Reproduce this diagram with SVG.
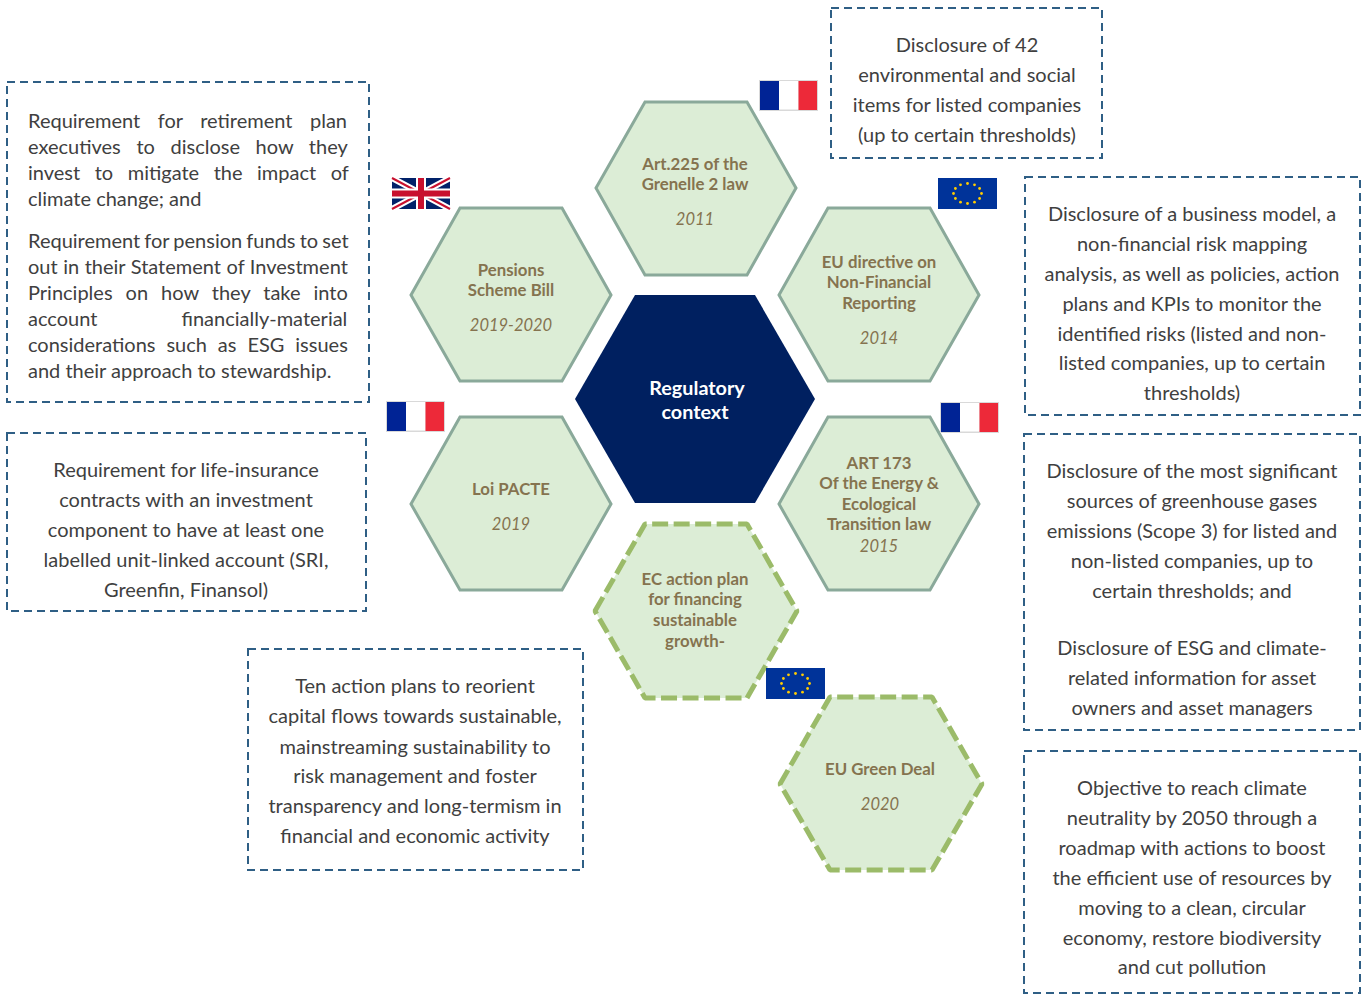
<svg xmlns="http://www.w3.org/2000/svg" width="1366" height="994" viewBox="0 0 1366 994">
<defs>
<style>
text{font-family:"Lato","Open Sans","Liberation Sans",sans-serif}
.b{fill:none;stroke:#2f5f85;stroke-width:2;stroke-dasharray:8 5}
.t{font-size:20px;fill:#404040;text-anchor:middle}
.l{font-size:20px;fill:#404040}
.h{fill:#dcedd6;stroke:#8aa99a;stroke-width:3}
.d{fill:#dcedd6;stroke:#9bbb69;stroke-width:5;stroke-dasharray:16 5.5;stroke-linejoin:bevel}
.n{font-size:16.800px;font-weight:700;fill:#85734f;text-anchor:middle}
.y{font-size:16.500px;font-style:italic;fill:#85734f;text-anchor:middle}
.c{font-size:19.800px;font-weight:700;fill:#fff;text-anchor:middle}
.s{fill:#ffcc00}
</style>
<g id="eu"><rect width="59" height="31" fill="#003399"/><g class="s"><circle cx="29.500" cy="5.500" r="1.400"/><circle cx="29.500" cy="25.500" r="1.400"/><circle cx="15.500" cy="15.500" r="1.400"/><circle cx="43.500" cy="15.500" r="1.400"/><circle cx="22.500" cy="6.800" r="1.400"/><circle cx="36.500" cy="6.800" r="1.400"/><circle cx="22.500" cy="24.200" r="1.400"/><circle cx="36.500" cy="24.200" r="1.400"/><circle cx="17.400" cy="10.500" r="1.400"/><circle cx="41.600" cy="10.500" r="1.400"/><circle cx="17.400" cy="20.500" r="1.400"/><circle cx="41.600" cy="20.500" r="1.400"/></g></g>
<g id="fr"><rect width="59" height="31" fill="#d9d9d9"/><rect x="1" y="1" width="19" height="29" fill="#002395"/><rect x="20" y="1" width="19.500" height="28.500" fill="#fff"/><rect x="39.500" y="1" width="18.500" height="29" fill="#ed2939"/></g>
</defs>
<rect width="1366" height="994" fill="#fff"/>
<g id="connectors"></g>

<g id="center"><polygon points="575,399 635,295 755,295 815,399 755,503 635,503" fill="#002060"/><text class="c" x="697" y="395">Regulatory</text><text class="c" x="695" y="419">context</text></g>

<g id="hex-art225"><polygon class="h" points="596,188 645,102 747,102 796,188 747,275 645,275"/><text class="n" x="695" y="170">Art.225 of the</text><text class="n" x="695" y="190">Grenelle 2 law</text><text class="y" x="695" y="224.500">2011</text></g>
<g id="hex-pensions"><polygon class="h" points="411,295 460,208 562,208 611,295 562,381 460,381"/><text class="n" x="511" y="276">Pensions</text><text class="n" x="511" y="296">Scheme Bill</text><text class="y" x="511" y="330.500">2019-2020</text></g>
<g id="hex-eu-directive"><polygon class="h" points="779,295 828,208 930,208 979,295 930,381 828,381"/><text class="n" x="879" y="268">EU directive on</text><text class="n" x="879" y="288">Non-Financial</text><text class="n" x="879" y="309">Reporting</text><text class="y" x="879" y="343.500">2014</text></g>
<g id="hex-pacte"><polygon class="h" points="411,504 460,417 562,417 611,504 562,590 460,590"/><text class="n" x="511" y="495">Loi PACTE</text><text class="y" x="511" y="529.500">2019</text></g>
<g id="hex-art173"><polygon class="h" points="779,504 828,417 930,417 979,504 930,590 828,590"/><text class="n" x="879" y="469">ART 173</text><text class="n" x="879" y="489">Of the Energy &amp;</text><text class="n" x="879" y="510">Ecological</text><text class="n" x="879" y="530">Transition law</text><text class="y" x="879" y="551.500">2015</text></g>
<g id="hex-ec-plan"><polygon class="d" points="595,611 645,524 747,524 797,611 747,698 645,698"/><text class="n" x="695" y="585">EC action plan</text><text class="n" x="695" y="605">for financing</text><text class="n" x="695" y="626">sustainable</text><text class="n" x="695" y="647">growth-</text></g>
<g id="hex-green-deal"><polygon class="d" points="780,784 830,697 932,697 982,784 932,870 830,870"/><text class="n" x="880" y="775">EU Green Deal</text><text class="y" x="880" y="809.500">2020</text></g>

<g id="flag-fr1"><use href="#fr" x="759" y="80"/></g>
<g id="flag-uk"><rect x="392" y="178" width="58" height="31" fill="#012169"/><path d="M392,178L450,209M450,178L392,209" stroke="#fff" stroke-width="6"/><path d="M392,178L450,209M450,178L392,209" stroke="#c8102e" stroke-width="2"/><path d="M421,178V209M392,193.500H450" stroke="#fff" stroke-width="10"/><path d="M421,178V209M392,193.500H450" stroke="#c8102e" stroke-width="6"/></g>
<g id="flag-eu1"><use href="#eu" x="938" y="178"/></g>
<g id="flag-fr2"><use href="#fr" x="386" y="401"/></g>
<g id="flag-fr3"><use href="#fr" x="940" y="402"/></g>
<g id="flag-eu2"><use href="#eu" x="766" y="668"/></g>

<g id="note-uk"><rect class="b" x="7" y="82" width="362" height="320"/>
<text class="l" x="28" y="128" word-spacing="12.400">Requirement for retirement plan</text>
<text class="l" x="28" y="154" word-spacing="10.500">executives to disclose how they</text>
<text class="l" x="28" y="180" word-spacing="9.400">invest to mitigate the impact of</text>
<text class="l" x="28" y="206">climate change; and</text>
<text class="l" x="28" y="248" word-spacing="-1">Requirement for pension funds to set</text>
<text class="l" x="28" y="274" word-spacing="0.400">out in their Statement of Investment</text>
<text class="l" x="28" y="300" word-spacing="7.900">Principles on how they take into</text>
<text class="l" x="28" y="326" word-spacing="79">account financially-material</text>
<text class="l" x="28" y="352" word-spacing="5.800">considerations such as ESG issues</text>
<text class="l" x="28" y="378">and their approach to stewardship.</text></g>

<g id="note-pacte"><rect class="b" x="7" y="433" width="359" height="178"/>
<text class="t" x="186" y="477">Requirement for life-insurance</text>
<text class="t" x="186" y="507">contracts with an investment</text>
<text class="t" x="186" y="537">component to have at least one</text>
<text class="t" x="186" y="567">labelled unit-linked account (SRI,</text>
<text class="t" x="186" y="597">Greenfin, Finansol)</text></g>

<g id="note-ec"><rect class="b" x="248" y="649" width="335" height="221"/>
<text class="t" x="415" y="693">Ten action plans to reorient</text>
<text class="t" x="415" y="723">capital flows towards sustainable,</text>
<text class="t" x="415" y="754">mainstreaming sustainability to</text>
<text class="t" x="415" y="783">risk management and foster</text>
<text class="t" x="415" y="813">transparency and long-termism in</text>
<text class="t" x="415" y="843">financial and economic activity</text></g>

<g id="note-fr1"><rect class="b" x="831" y="8" width="271" height="150"/>
<text class="t" x="967" y="52">Disclosure of 42</text>
<text class="t" x="967" y="82">environmental and social</text>
<text class="t" x="967" y="112">items for listed companies</text>
<text class="t" x="967" y="142">(up to certain thresholds)</text></g>

<g id="note-eu"><rect class="b" x="1025" y="177" width="335" height="238"/>
<text class="t" x="1192" y="221">Disclosure of a business model, a</text>
<text class="t" x="1192" y="251">non-financial risk mapping</text>
<text class="t" x="1192" y="281">analysis, as well as policies, action</text>
<text class="t" x="1192" y="311">plans and KPIs to monitor the</text>
<text class="t" x="1192" y="341">identified risks (listed and non-</text>
<text class="t" x="1192" y="370">listed companies, up to certain</text>
<text class="t" x="1192" y="400">thresholds)</text></g>

<g id="note-fr3"><rect class="b" x="1024" y="434" width="336" height="296"/>
<text class="t" x="1192" y="478">Disclosure of the most significant</text>
<text class="t" x="1192" y="508">sources of greenhouse gases</text>
<text class="t" x="1192" y="538">emissions (Scope 3) for listed and</text>
<text class="t" x="1192" y="568">non-listed companies, up to</text>
<text class="t" x="1192" y="598">certain thresholds; and</text>
<text class="t" x="1192" y="655">Disclosure of ESG and climate-</text>
<text class="t" x="1192" y="685">related information for asset</text>
<text class="t" x="1192" y="715">owners and asset managers</text></g>

<g id="note-green"><rect class="b" x="1024" y="751" width="336" height="242"/>
<text class="t" x="1192" y="795">Objective to reach climate</text>
<text class="t" x="1192" y="825">neutrality by 2050 through a</text>
<text class="t" x="1192" y="855">roadmap with actions to boost</text>
<text class="t" x="1192" y="885">the efficient use of resources by</text>
<text class="t" x="1192" y="915">moving to a clean, circular</text>
<text class="t" x="1192" y="945">economy, restore biodiversity</text>
<text class="t" x="1192" y="974">and cut pollution</text></g>
</svg>
